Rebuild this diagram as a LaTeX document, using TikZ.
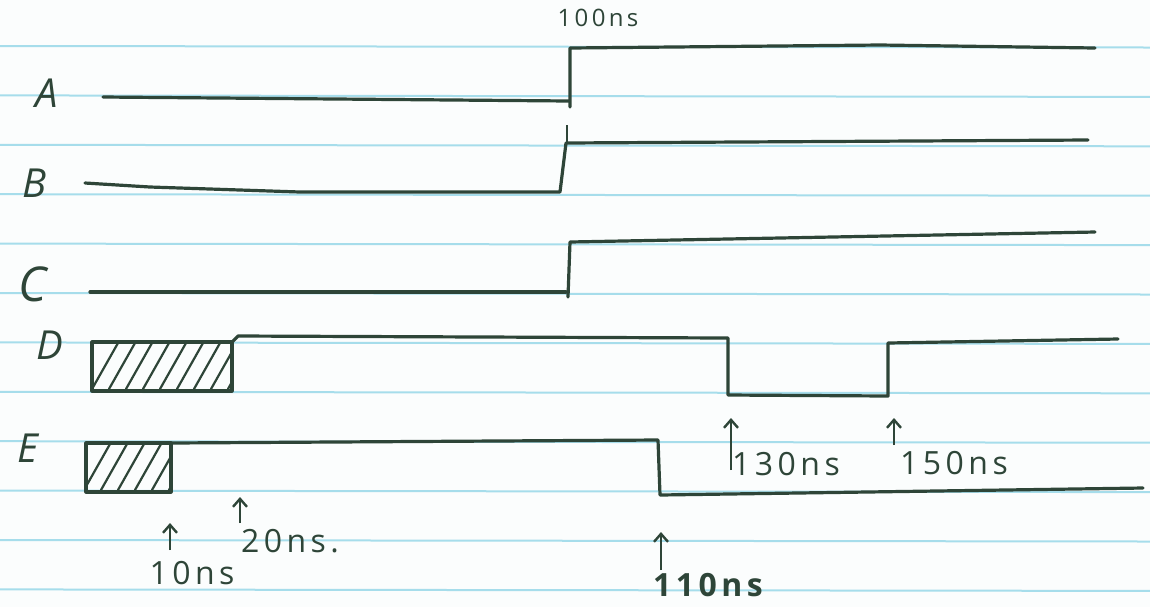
\documentclass[tikz,border=0pt]{standalone}
\usepackage{fontspec}
\setmainfont{Open Sans}
\newfontfamily\hand[LetterSpace=14]{Open Sans}
\usetikzlibrary{arrows.meta}
\definecolor{ink}{HTML}{2E4538}
\definecolor{rulec}{HTML}{A6DDEB}
\definecolor{paper}{HTML}{FBFDFD}
\tikzset{
  rulestyle/.style={draw=rulec, line width=1pt},
  wave/.style={draw=ink, line width=1.6pt, line cap=round, line join=round},
  hatchline/.style={draw=ink, line width=1.1pt, line cap=round},
  tickarrow/.style={draw=ink, line width=1.2pt, -{Straight Barb[length=4pt,width=7pt]}},
  siglabel/.style={text=ink, font=\fontsize{20}{22}\selectfont\itshape, inner sep=0pt},
  timelabel/.style={text=ink, font=\hand\fontsize{16}{18}\selectfont, inner sep=0pt},
}
\begin{document}
\begin{tikzpicture}[x=0.5pt,y=-0.5pt]
\fill[paper] (0,0) rectangle (1150,607);
\useasboundingbox (0,0) rectangle (1150,607);
% ruled paper
\foreach \i in {0,...,11}
  \draw[rulestyle] (0,{46+49.4*\i}) -- (1150,{47.5+49.4*\i});

% signal labels
\node[siglabel] (lA) at (47,93) {A};
\node[siglabel] (lB) at (35,183) {B};
\node[siglabel, font=\fontsize{24}{26}\selectfont\itshape] (lC) at (33,284) {C};
\node[siglabel] (lD) at (50,345) {D};
\node[siglabel] (lE) at (28,448) {E};

% A
\draw[wave] (103,97) -- (569,101);
\draw[wave] (570,107) -- (570,48) -- (880,45) -- (1095,48);
% B
\draw[wave] (85,183) -- (150,187) -- (300,192) -- (560,192) -- (566,143) -- (1088,140);
\draw[draw=ink, line width=0.8pt] (567,143) -- (567,125);
% C
\draw[wave] (90,292) -- (566,292);
\draw[wave] (568,297) -- (570,242) -- (1095,232);
% D
\draw[wave] (92,342) rectangle (232,391);
\begin{scope}
  \clip (92,342) rectangle (232,391);
  \foreach \i in {0,...,8}
    \draw[hatchline] ({92+\i*17},389) -- ++(26,-46);
\end{scope}
\draw[wave] (232,342) -- (238,336) -- (728,338) -- (728,395) -- (888,396) -- (888,343) -- (1118,339);
% E
\draw[wave] (86,443) rectangle (171,492);
\begin{scope}
  \clip (86,443) rectangle (171,492);
  \foreach \i in {0,...,5}
    \draw[hatchline] ({84+\i*17},490) -- ++(26,-46);
\end{scope}
\draw[wave] (171,443) -- (658,440) -- (660,495) -- (1143,488);

% time labels
\node[timelabel, font=\hand\fontsize{12}{14}\selectfont] (t100) at (598,18) {100ns};
\node[timelabel] (t10) at (192,573) {10ns};
\node[timelabel] (t20) at (290,541) {20ns.};
\node[timelabel, font=\hand\fontsize{16}{18}\selectfont\bfseries] (t110) at (708,585) {110ns};
\node[timelabel] (t130) at (786,464) {130ns};
\node[timelabel] (t150) at (954,463) {150ns};

% arrows
\coordinate (a10) at (170,550);   \coordinate (b10) at (170,523);
\coordinate (a20) at (240,523);   \coordinate (b20) at (240,497);
\coordinate (a110) at (661,570);  \coordinate (b110) at (661,532);
\coordinate (a130) at (731,470);  \coordinate (b130) at (731,418);
\coordinate (a150) at (894,445);  \coordinate (b150) at (894,418);
\draw[tickarrow] (a10) -- (b10);
\draw[tickarrow] (a20) -- (b20);
\draw[tickarrow] (a110) -- (b110);
\draw[tickarrow] (a130) -- (b130);
\draw[tickarrow] (a150) -- (b150);
\end{tikzpicture}
\end{document}
